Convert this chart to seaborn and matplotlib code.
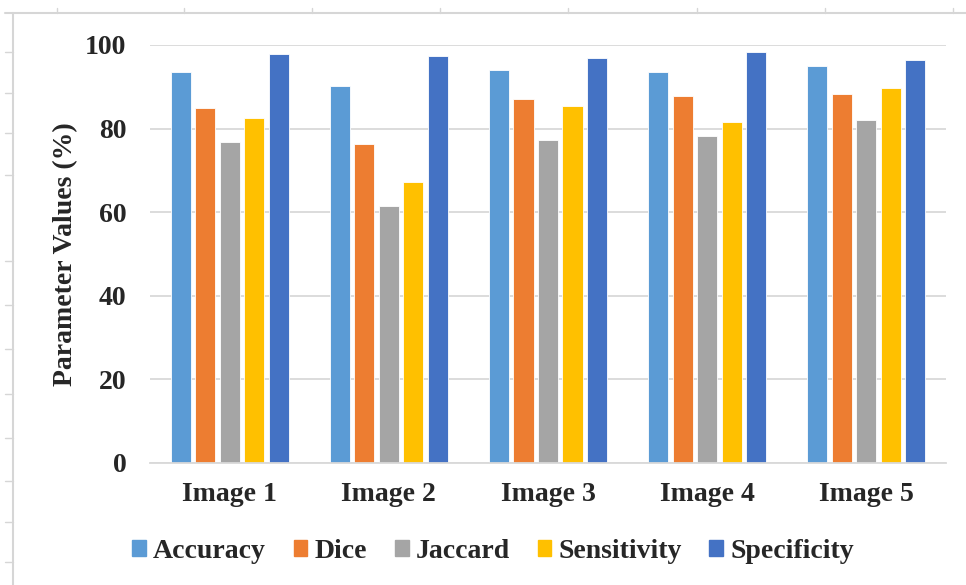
import matplotlib
matplotlib.use("Agg")
import matplotlib.pyplot as plt
from matplotlib.lines import Line2D
import pandas as pd
import seaborn as sns

# Segmentation scores per test image (%)
images = ["Image 1", "Image 2", "Image 3", "Image 4", "Image 5"]
metrics = ["Accuracy", "Dice", "Jaccard", "Sensitivity", "Specificity"]
accuracy = [93.5, 90.2, 94.0, 93.5, 95.0]
dice = [84.9, 76.2, 87.2, 87.7, 88.3]
jaccard = [76.7, 61.5, 77.3, 78.2, 82.0]
sensitivity = [82.5, 67.2, 85.3, 81.6, 89.6]
specificity = [97.8, 97.4, 96.9, 98.3, 96.4]
y_ticks = [0, 20, 40, 60, 80, 100]

colors = ["#5B9BD5", "#ED7D31", "#A5A5A5", "#FFC000", "#4472C4"]

series = {"Accuracy": accuracy, "Dice": dice, "Jaccard": jaccard,
          "Sensitivity": sensitivity, "Specificity": specificity}
rows = []
for m in metrics:
    for img, v in zip(images, series[m]):
        rows.append({"Image": img, "Metric": m, "Value": v})
df = pd.DataFrame(rows)

sns.set_theme(style="white")
plt.rcParams["font.family"] = ["Liberation Serif", "DejaVu Serif"]
plt.rcParams["font.weight"] = "bold"

fig = plt.figure(figsize=(9.66, 5.85), dpi=100)
ax = fig.add_axes([150 / 966, 1 - 463 / 585, 796 / 966, 418 / 585])

sns.barplot(data=df, x="Image", y="Value", hue="Metric", order=images,
            hue_order=metrics, palette=colors, width=0.77, gap=0.18,
            edgecolor="white", linewidth=0.6, errorbar=None, ax=ax,
            legend=False, saturation=1)

ax.set_ylim(0, 100)
ax.set_yticks(y_ticks)
ax.set_xlim(-0.5, len(images) - 0.5)
ax.yaxis.grid(True, color="#D9D9D9", linewidth=1.3)
ax.set_axisbelow(True)
for s in ["left", "top", "right"]:
    ax.spines[s].set_visible(False)
ax.spines["bottom"].set_color("#D9D9D9")
ax.spines["bottom"].set_linewidth(1.3)

ax.tick_params(axis="y", length=0, pad=17, labelsize=20)
ax.tick_params(axis="x", length=0, pad=14, labelsize=20)
for lab in ax.get_xticklabels() + ax.get_yticklabels():
    lab.set_fontweight("bold")

ax.set_xlabel("")
ax.set_ylabel("Parameter Values (%)", fontsize=20, fontweight="bold")
ax.yaxis.set_label_coords(-0.090, 0.5)

handles = [plt.Rectangle((0, 0), 1, 1, color=c) for c in colors]
fig.legend(handles, metrics, loc="center", ncol=5, frameon=False,
           bbox_to_anchor=(493 / 966, 1 - 551 / 585),
           prop={"family": "Liberation Serif", "weight": "bold", "size": 20},
           handlelength=0.5, handleheight=0.5, handletextpad=0.25,
           columnspacing=1.0)

# Page ruler frame around the chart
W, H = 966, 585
rc = "#D6D6D6"
fig.add_artist(Line2D([5 / W, 1], [1 - 13 / H, 1 - 13 / H], color=rc, lw=1.5,
                      transform=fig.transFigure))
fig.add_artist(Line2D([12.5 / W, 12.5 / W], [1 - 13 / H, 0], color=rc, lw=1.5,
                      transform=fig.transFigure))
for x in [57, 184, 312, 440, 568, 697, 825, 953]:
    fig.add_artist(Line2D([x / W, x / W], [1 - 8 / H, 1 - 13 / H], color=rc,
                          lw=1.0, transform=fig.transFigure))
for y in [52, 93, 133, 175, 261, 305, 349, 394, 438, 481, 522, 562]:
    fig.add_artist(Line2D([5 / W, 12.5 / W], [1 - y / H, 1 - y / H], color=rc,
                          lw=1.0, transform=fig.transFigure))

fig.savefig("out.png", dpi=100)
